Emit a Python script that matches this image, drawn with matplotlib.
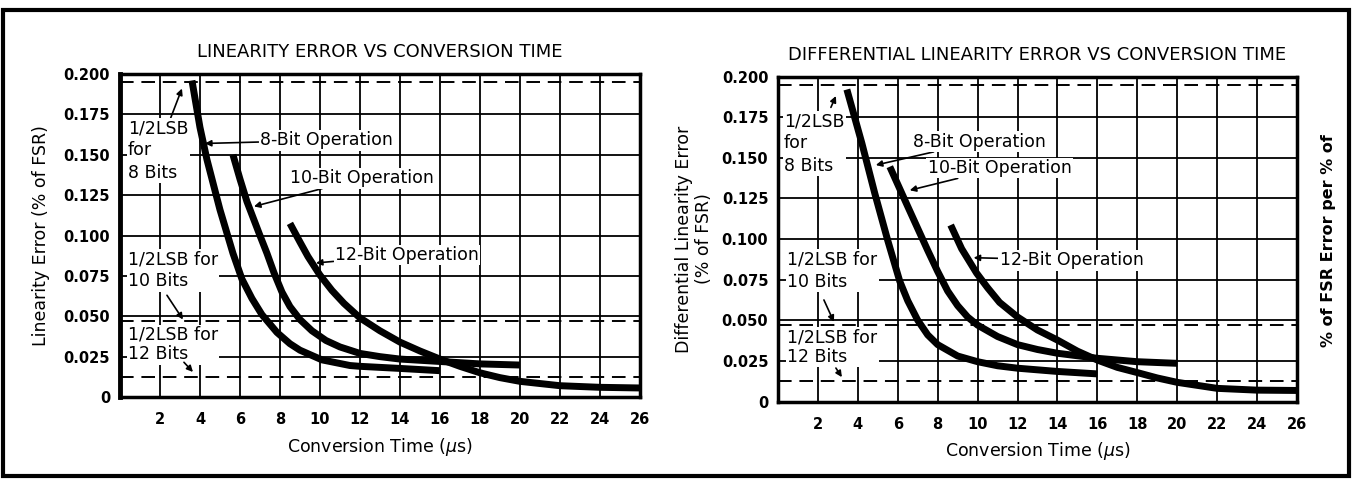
import matplotlib
matplotlib.use("Agg")
import matplotlib.pyplot as plt
from matplotlib.patches import Rectangle

# conversion time ticks and error levels
x_ticks = [2, 4, 6, 8, 10, 12, 14, 16, 18, 20, 22, 24, 26]
y_ticks = [0, 0.025, 0.050, 0.075, 0.100, 0.125, 0.150, 0.175, 0.200]
y_ticklabels = ["0", "0.025", "0.050", "0.075", "0.100", "0.125", "0.150", "0.175", "0.200"]
lsb_levels = [0.195, 0.047, 0.0125]   # 1/2 LSB for 8, 10, 12 bits

# linearity error curves (left)
lin8_x = [3.6, 4.0, 4.35, 5.0, 5.65, 6.1, 6.6, 7.1, 7.85, 8.5, 9.0, 10.1, 11.5, 12.0, 14.0, 16.0]
lin8_y = [0.196, 0.167, 0.147, 0.116, 0.089, 0.073, 0.061, 0.051, 0.040, 0.033, 0.029, 0.023, 0.0195, 0.019, 0.0177, 0.0163]
lin10_x = [5.65, 6.0, 6.35, 7.0, 7.35, 7.7, 8.1, 8.5, 9.0, 9.6, 10.3, 11.0, 12.0, 13.0, 14.0, 16.0, 18.0, 20.0]
lin10_y = [0.150, 0.135, 0.121, 0.100, 0.089, 0.077, 0.065, 0.056, 0.048, 0.041, 0.035, 0.031, 0.027, 0.025, 0.0235, 0.022, 0.0205, 0.0198]
lin12_x = [8.5, 9.0, 9.4, 10.0, 10.6, 11.2, 12.0, 13.0, 14.0, 15.0, 16.0, 17.0, 18.0, 19.0, 20.0, 22.0, 24.0, 26.0]
lin12_y = [0.1075, 0.096, 0.087, 0.0755, 0.066, 0.058, 0.049, 0.041, 0.034, 0.0285, 0.0235, 0.019, 0.015, 0.012, 0.0097, 0.007, 0.006, 0.0056]

# differential linearity error curves (right)
dnl8_x = [3.45, 4.2, 4.85, 5.5, 6.1, 6.5, 7.0, 7.5, 8.0, 9.0, 10.0, 11.0, 12.0, 14.0, 16.0]
dnl8_y = [0.192, 0.159, 0.128, 0.099, 0.074, 0.062, 0.050, 0.041, 0.035, 0.028, 0.0245, 0.022, 0.0205, 0.0185, 0.017]
dnl10_x = [5.6, 6.5, 7.5, 8.0, 8.5, 9.0, 9.5, 10.0, 11.0, 12.0, 13.0, 14.0, 16.0, 18.0, 20.0]
dnl10_y = [0.1445, 0.12, 0.093, 0.080, 0.068, 0.059, 0.052, 0.047, 0.040, 0.035, 0.032, 0.0297, 0.0266, 0.0245, 0.0235]
dnl12_x = [8.65, 9.2, 9.95, 10.5, 11.1, 12.0, 13.0, 14.0, 15.0, 16.0, 17.0, 18.0, 19.0, 20.0, 22.0, 24.0, 26.0]
dnl12_y = [0.1086, 0.094, 0.079, 0.070, 0.061, 0.052, 0.044, 0.0378, 0.031, 0.0255, 0.021, 0.0178, 0.0145, 0.0118, 0.0081, 0.007, 0.0068]

fig = plt.figure(figsize=(13.54, 4.8), dpi=100)
ax1 = fig.add_axes([0.0886, 0.1729, 0.3840, 0.6729])
ax2 = fig.add_axes([0.5746, 0.1635, 0.3833, 0.6771])

box = dict(facecolor="white", edgecolor="none", pad=1)
arrow = dict(arrowstyle="-|>", lw=1.2, color="black", mutation_scale=9, shrinkA=0, shrinkB=0)


def setup(ax, title):
    ax.set_xlim(0, 26)
    ax.set_ylim(0, 0.2)
    ax.set_xticks(x_ticks)
    ax.set_yticks(y_ticks)
    ax.set_yticklabels(y_ticklabels)
    ax.tick_params(length=0, labelsize=10.5)
    ax.tick_params(axis="y", pad=7)
    ax.tick_params(axis="x", pad=11)
    for lab in ax.get_xticklabels() + ax.get_yticklabels():
        lab.set_fontweight("bold")
    ax.grid(True, color="black", lw=1.3)
    for s in ax.spines.values():
        s.set_linewidth(2.5)
    ax.set_axisbelow(True)
    for lv in lsb_levels:
        ax.axhline(lv, color="black", lw=1.4, dashes=(7, 4), zorder=2)
    ax.set_title(title, fontsize=13, pad=12)
    ax.set_xlabel("Conversion Time ($\\mu$s)", fontsize=12.5, labelpad=6)


setup(ax1, "LINEARITY ERROR VS CONVERSION TIME")
setup(ax2, "DIFFERENTIAL LINEARITY ERROR VS CONVERSION TIME")
ax1.spines["left"].set_linewidth(3.5)
ax1.set_ylabel("Linearity Error (% of FSR)", fontsize=12.5, labelpad=10)
ax2.set_ylabel("Differential Linearity Error\n(% of FSR)", fontsize=12.5, labelpad=6)

for ax, curves in [(ax1, [(lin8_x, lin8_y), (lin10_x, lin10_y), (lin12_x, lin12_y)]),
                   (ax2, [(dnl8_x, dnl8_y), (dnl10_x, dnl10_y), (dnl12_x, dnl12_y)])]:
    for cx, cy in curves:
        ax.plot(cx, cy, color="black", lw=5, solid_capstyle="butt", solid_joinstyle="round", zorder=3)

fs = 12.5
# left annotations
ax1.annotate("1/2LSB\nfor\n8 Bits", xy=(3.1, 0.191), xytext=(0.4, 0.172), fontsize=fs,
             va="top", ha="left", linespacing=1.3, bbox=box, arrowprops=arrow, zorder=4)
ax1.annotate("8-Bit Operation", xy=(4.25, 0.157), xytext=(7.0, 0.159), fontsize=fs,
             va="center", ha="left", bbox=box, arrowprops=arrow, zorder=4)
ax1.annotate("10-Bit Operation", xy=(6.7, 0.118), xytext=(8.5, 0.1355), fontsize=fs,
             va="center", ha="left", bbox=box, arrowprops=arrow, zorder=4)
ax1.annotate("12-Bit Operation", xy=(9.8, 0.083), xytext=(10.75, 0.088), fontsize=fs,
             va="center", ha="left", bbox=box, arrowprops=arrow, zorder=4)
ax1.annotate("1/2LSB for\n10 Bits", xy=(3.15, 0.0476), xytext=(0.4, 0.091), fontsize=fs,
             va="top", ha="left", linespacing=1.3, bbox=box, zorder=4)
ax1.annotate("", xy=(3.15, 0.048), xytext=(2.35, 0.063), arrowprops=arrow, zorder=4)
ax1.annotate("1/2LSB for\n12 Bits", xy=(3.65, 0.0155), xytext=(0.4, 0.044), fontsize=fs,
             va="top", ha="left", linespacing=1.1, bbox=box, zorder=4)
ax1.annotate("", xy=(3.65, 0.0155), xytext=(3.2, 0.0215), arrowprops=arrow, zorder=4)

# right annotations
ax2.annotate("1/2LSB\nfor\n8 Bits", xy=(2.9, 0.187), xytext=(0.3, 0.178), fontsize=fs,
             va="top", ha="left", linespacing=1.3, bbox=box, zorder=4)
ax2.annotate("", xy=(2.9, 0.188), xytext=(2.65, 0.181), arrowprops=arrow, zorder=4)
ax2.annotate("8-Bit Operation", xy=(4.9, 0.1455), xytext=(6.75, 0.16), fontsize=fs,
             va="center", ha="left", bbox=box, arrowprops=arrow, zorder=4)
ax2.annotate("10-Bit Operation", xy=(6.6, 0.13), xytext=(7.5, 0.1437), fontsize=fs,
             va="center", ha="left", bbox=box, arrowprops=arrow, zorder=4)
ax2.annotate("12-Bit Operation", xy=(9.8, 0.0885), xytext=(11.1, 0.087), fontsize=fs,
             va="center", ha="left", bbox=box, arrowprops=arrow, zorder=4)
ax2.annotate("1/2LSB for\n10 Bits", xy=(2.8, 0.049), xytext=(0.45, 0.093), fontsize=fs,
             va="top", ha="left", linespacing=1.3, bbox=box, zorder=4)
ax2.annotate("", xy=(2.8, 0.049), xytext=(2.3, 0.0625), arrowprops=arrow, zorder=4)
ax2.annotate("1/2LSB for\n12 Bits", xy=(3.2, 0.015), xytext=(0.45, 0.045), fontsize=fs,
             va="top", ha="left", linespacing=1.1, bbox=box, zorder=4)
ax2.annotate("", xy=(3.2, 0.015), xytext=(2.9, 0.0206), arrowprops=arrow, zorder=4)

fig.text(1328 / 1354, 1 - 241 / 480, "% of FSR Error per % of", rotation=90,
         ha="center", va="center", fontsize=11.5, fontweight="bold")

fig.add_artist(Rectangle((3 / 1354, 4 / 480), 1346 / 1354, 466 / 480, transform=fig.transFigure,
                         fill=False, lw=3, edgecolor="black"))

fig.savefig("out.png", dpi=100)
